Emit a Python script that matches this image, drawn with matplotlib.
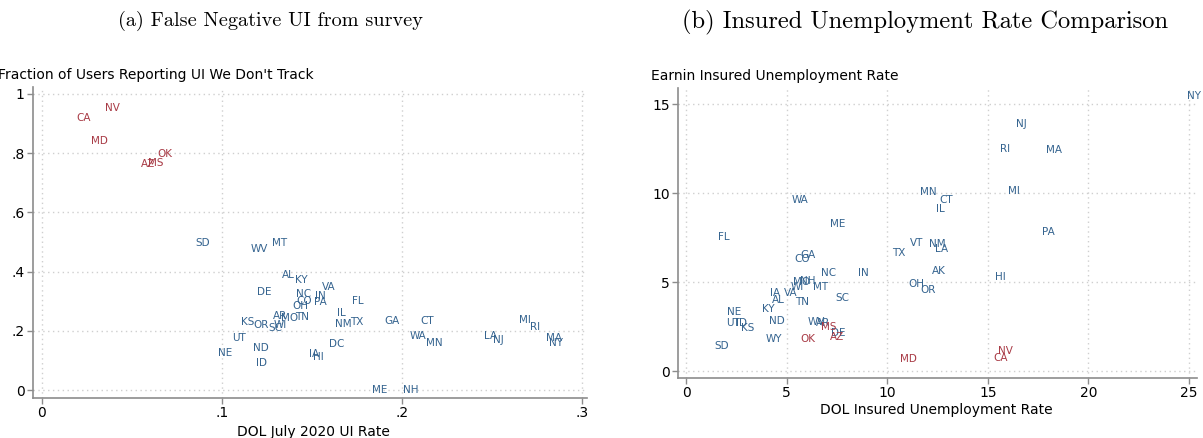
import matplotlib
matplotlib.use("Agg")
import matplotlib.pyplot as plt
from matplotlib.patches import Rectangle

# ---------------- data ----------------
# Panel (a): DOL July 2020 UI rate vs fraction reporting UI we don't track
a_states = ["CA", "NV", "MD", "OK", "AZ", "MS", "SD", "WV", "MT", "AL", "KY", "DE",
            "NC", "IN", "VA", "CO", "PA", "OH", "FL", "IL", "AR", "MO", "TN", "KS",
            "OR", "WI", "SC", "NM", "TX", "GA", "CT", "UT", "WA", "MN", "ND", "NE",
            "DC", "IA", "HI", "ID", "ME", "NH", "LA", "NJ", "MI", "RI", "MA", "NY"]
a_x = [0.0233, 0.0389, 0.0317, 0.0683, 0.0589, 0.0633, 0.0894, 0.121, 0.132, 0.137,
       0.144, 0.1236, 0.1453, 0.1544, 0.1594, 0.1456, 0.1544, 0.1433, 0.1756, 0.1664,
       0.132, 0.1378, 0.1447, 0.1142, 0.1217, 0.1322, 0.1294, 0.1672, 0.1747, 0.1942,
       0.2139, 0.1092, 0.2089, 0.218, 0.1214, 0.1019, 0.1639, 0.1511, 0.1536, 0.1222,
       0.1878, 0.205, 0.2492, 0.2536, 0.2683, 0.2742, 0.2847, 0.2853]
a_y = [0.919, 0.953, 0.841, 0.796, 0.764, 0.766, 0.496, 0.475, 0.498, 0.389,
       0.372, 0.332, 0.323, 0.319, 0.349, 0.301, 0.298, 0.284, 0.301, 0.261,
       0.250, 0.244, 0.248, 0.231, 0.220, 0.220, 0.208, 0.222, 0.231, 0.234,
       0.234, 0.175, 0.182, 0.158, 0.143, 0.126, 0.157, 0.120, 0.1125, 0.092,
       0.0, 0.0, 0.182, 0.168, 0.236, 0.214, 0.177, 0.158]

# Panel (b): DOL insured unemployment rate vs Earnin insured unemployment rate
b_states = ["NY", "NJ", "RI", "MA", "MI", "MN", "CT", "IL", "PA", "VT", "NM", "LA",
            "TX", "IN", "AK", "HI", "OH", "OR", "WA", "ME", "FL", "GA", "CO", "NC",
            "MO", "NH", "MT", "WI", "IA", "VA", "AL", "TN", "SC", "KY", "NE", "UT",
            "ID", "KS", "ND", "WY", "SD", "WV", "AR", "DE", "MS", "AZ", "OK", "MD",
            "CA", "NV"]
b_x = [25.25, 16.67, 15.87, 18.29, 16.28, 12.06, 12.95, 12.65, 17.99, 11.46, 12.47, 12.72,
       10.55, 8.84, 12.58, 15.65, 11.47, 12.01, 5.67, 7.52, 1.90, 6.07, 5.76, 7.08,
       5.72, 6.07, 6.68, 5.54, 4.43, 5.21, 4.59, 5.77, 7.77, 4.08, 2.38, 2.31,
       2.77, 3.05, 4.54, 4.39, 1.75, 6.47, 6.82, 7.58, 7.10, 7.50, 6.06, 11.08,
       15.62, 15.90]
b_y = [15.45, 13.86, 12.47, 12.42, 10.11, 10.07, 9.61, 9.10, 7.79, 7.17, 7.13, 6.84,
       6.61, 5.52, 5.62, 5.30, 4.87, 4.55, 9.61, 8.26, 7.51, 6.52, 6.27, 5.49,
       5.02, 5.06, 4.70, 4.70, 4.37, 4.40, 3.99, 3.89, 4.12, 3.47, 3.33, 2.68,
       2.68, 2.43, 2.83, 1.82, 1.40, 2.74, 2.68, 2.15, 2.49, 1.93, 1.78, 0.66,
       0.75, 1.12]

red_states = ["CA", "NV", "MD", "OK", "AZ", "MS"]

a_xticks = [0, 0.1, 0.2, 0.3]
a_xticklabels = ["0", ".1", ".2", ".3"]
a_yticks = [0, 0.2, 0.4, 0.6, 0.8, 1.0]
a_yticklabels = ["0", ".2", ".4", ".6", ".8", "1"]
b_xticks = [0, 5, 10, 15, 20, 25]
b_yticks = [0, 5, 10, 15]

BLUE = "#34638f"
RED = "#a83a45"
SPINE = "#8c8c8c"
GRID = "#cfcfcf"

W, H = 1203, 438
fig = plt.figure(figsize=(W / 100, H / 100), dpi=100)


def px_rect(left, top, right, bottom):
    return [left / W, 1 - bottom / H, (right - left) / W, (bottom - top) / H]


def style(ax):
    for s in ["top", "right"]:
        ax.spines[s].set_visible(False)
    for s in ["left", "bottom"]:
        ax.spines[s].set_color(SPINE)
        ax.spines[s].set_linewidth(1.2)
    ax.tick_params(axis="both", direction="out", length=4, width=1, color=SPINE,
                   labelsize=10, pad=2, labelcolor="black")
    ax.grid(True, linestyle=(0, (1, 2.5)), color=GRID, linewidth=1)
    ax.set_axisbelow(True)


def label_points(ax, names, xs, ys):
    # blue first, red on top
    for red_pass in (False, True):
        for n, x, y in zip(names, xs, ys):
            if (n in red_states) != red_pass:
                continue
            ax.text(x, y, n, ha="center", va="center", fontsize=7.5,
                    color=RED if red_pass else BLUE, clip_on=False)


# ---- Panel (a) ----
ax1 = fig.add_axes(px_rect(33, 87, 587, 398))
style(ax1)
ax1.set_xlim(-0.005, 0.3028)
ax1.set_ylim(-0.027, 1.0236)
ax1.set_xticks(a_xticks, a_xticklabels)
ax1.set_yticks(a_yticks, a_yticklabels)
label_points(ax1, a_states, a_x, a_y)

# ---- Panel (b) ----
ax2 = fig.add_axes(px_rect(678, 88, 1197, 378))
style(ax2)
ax2.set_xlim(-0.40, 25.40)
ax2.set_ylim(-0.39, 15.9)
ax2.set_xticks(b_xticks, [str(t) for t in b_xticks])
ax2.set_yticks(b_yticks, [str(t) for t in b_yticks])
label_points(ax2, b_states, b_x, b_y)

# mask the cut-off edge of panel (a), as in the reference crop
fig.patches.append(Rectangle((590 / W, 0), 45 / W, 1, transform=fig.transFigure,
                             facecolor="white", edgecolor="none", zorder=10))

# axis titles
fig.text(-2 / W, 1 - 75 / H, "Fraction of Users Reporting UI We Don't Track",
         ha="left", va="center", fontsize=10, zorder=11)
fig.text(651 / W, 1 - 76 / H, "Earnin Insured Unemployment Rate",
         ha="left", va="center", fontsize=10, zorder=11)
fig.text(313 / W, 1 - 432 / H, "DOL July 2020 UI Rate",
         ha="center", va="center", fontsize=10, zorder=11)
fig.text(936 / W, 1 - 410 / H, "DOL Insured Unemployment Rate",
         ha="center", va="center", fontsize=10, zorder=11)

# panel captions
fig.text(270 / W, 1 - 21 / H, "(a) False Negative UI from survey",
         ha="center", va="center", fontsize=14.6, family="cmr10", zorder=11)
fig.text(925 / W, 1 - 22 / H, "(b) Insured Unemployment Rate Comparison",
         ha="center", va="center", fontsize=17.6, family="cmr10", zorder=11)

fig.savefig("out.png", dpi=100, facecolor="white")
